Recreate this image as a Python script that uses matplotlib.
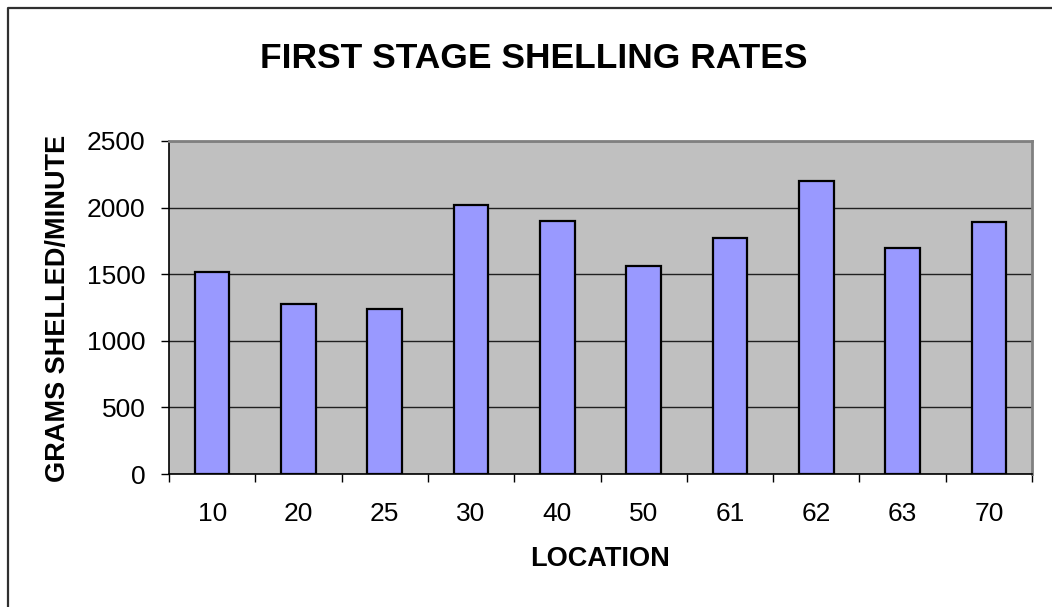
import matplotlib
matplotlib.use("Agg")
import matplotlib.pyplot as plt
from matplotlib.lines import Line2D
import numpy as np

locations = ['10', '20', '25', '30', '40', '50', '61', '62', '63', '70']
rates = [1520, 1280, 1235, 2020, 1900, 1565, 1775, 2200, 1695, 1890]
yticks = [0, 500, 1000, 1500, 2000, 2500]

plt.rcParams['font.family'] = ['Liberation Sans', 'DejaVu Sans']

W, H = 1052, 607
fig = plt.figure(figsize=(W / 100, H / 100), dpi=100)
ax = fig.add_axes([169 / W, 1 - 474 / H, (1032 - 169) / W, (474 - 141) / H])

x = np.arange(len(locations))
ax.set_facecolor('#C0C0C0')
ax.set_axisbelow(True)
ax.bar(x, rates, width=0.4, color='#9999FF', edgecolor='black', linewidth=1.6, zorder=3)

ax.set_xlim(-0.5, len(locations) - 0.5)
ax.set_ylim(0, 2500)
ax.set_yticks(yticks)
ax.set_yticklabels([str(v) for v in yticks], fontsize=19)
ax.yaxis.grid(True, color='#202020', linewidth=1.0)

ax.set_xticks(x)
ax.set_xticklabels(locations, fontsize=19)
ax.tick_params(axis='x', which='major', length=0, pad=20)
ax.set_xticks(np.arange(-0.5, len(locations), 1.0), minor=True)
ax.tick_params(axis='x', which='minor', length=6, width=1, direction='out', color='black')
ax.tick_params(axis='y', which='major', length=6, width=1, direction='out', pad=11)

for side in ('left', 'bottom'):
    ax.spines[side].set_color('black')
    ax.spines[side].set_linewidth(1.2)
for side in ('top', 'right'):
    ax.spines[side].set_color('#808080')
    ax.spines[side].set_linewidth(2.0)

fig.text(534 / W, 1 - 58 / H, 'FIRST STAGE SHELLING RATES', fontsize=25.5,
         fontweight='bold', ha='center', va='center')
fig.text(600 / W, 1 - 559 / H, 'LOCATION', fontsize=19.5,
         fontweight='bold', ha='center', va='center')
fig.text(58 / W, 1 - 308 / H, 'GRAMS SHELLED/MINUTE', fontsize=19.5,
         fontweight='bold', ha='center', va='center', rotation=90)

fig.add_artist(Line2D([7.5 / W, 7.5 / W, 1.0], [0.0, 1 - 7.5 / H, 1 - 7.5 / H],
                      transform=fig.transFigure, color='#303030', linewidth=1.6))

fig.savefig('out.png', dpi=100)
